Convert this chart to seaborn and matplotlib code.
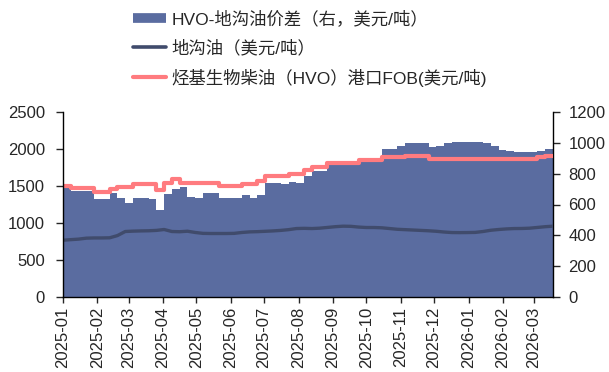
import numpy as np
import pandas as pd
import matplotlib
matplotlib.use("Agg")
import matplotlib.pyplot as plt
import matplotlib.dates as mdates
from matplotlib.lines import Line2D
import seaborn as sns

# --- Data (weekly readings, USD/t) ---
dates = pd.date_range("2025-01-01", periods=64, freq="7D")

hvo_fob = [1500, 1470, 1470, 1470, 1425, 1425, 1460, 1480, 1480, 1525,
           1525, 1525, 1445, 1545, 1590, 1535, 1535, 1535, 1535, 1535,
           1500, 1500, 1500, 1530, 1530, 1570, 1635, 1635, 1635, 1660,
           1660, 1715, 1760, 1760, 1805, 1805, 1805, 1805, 1850, 1850,
           1850, 1890, 1890, 1890, 1905, 1905, 1905, 1870, 1870, 1870,
           1870, 1870, 1870, 1870, 1870, 1870, 1870, 1870, 1870, 1870,
           1870, 1890, 1905, 1905]

uco = [767, 775, 782, 795, 798, 798, 800, 830, 885, 890,
       893, 895, 900, 912, 885, 882, 889, 872, 860, 858,
       858, 858, 860, 872, 880, 883, 888, 893, 900, 910,
       925, 928, 925, 930, 940, 950, 957, 955, 945, 939,
       939, 935, 925, 915, 910, 905, 900, 895, 888, 878,
       871, 870, 871, 873, 885, 902, 912, 920, 925, 926,
       930, 940, 950, 957]

spread = [709, 687, 687, 687, 637, 637, 676, 644, 607, 644,
          644, 633, 567, 665, 700, 716, 648, 644, 672, 672,
          644, 644, 644, 659, 639, 661, 742, 742, 731, 748,
          742, 785, 818, 818, 855, 855, 855, 855, 901, 901,
          901, 960, 960, 977, 999, 999, 999, 971, 981, 999,
          1003, 1003, 1003, 1003, 1000, 977, 953, 945, 938, 938,
          938, 945, 960, 953]

labels = ["HVO-地沟油价差（右，美元/吨）",
          "地沟油（美元/吨）",
          "烃基生物柴油（HVO）港口FOB(美元/吨)"]

BLUE = "#5A6CA0"
NAVY = "#404B6C"
PINK = "#FF7B7F"

df = pd.DataFrame({"date": dates, "hvo": hvo_fob, "uco": uco, "spread": spread})

sns.set_style("ticks")
plt.rcParams["font.family"] = ["Liberation Sans", "Noto Sans CJK SC", "DejaVu Sans"]

fig = plt.figure(figsize=(6.09, 3.72), dpi=100)
ax = fig.add_axes([63 / 609, 1 - 297 / 372, (553 - 63) / 609, (297 - 112) / 372])
ax2 = ax.twinx()

# spread area on the right axis, drawn underneath the price lines
ax2.fill_between(df["date"], df["spread"], step="post", color=BLUE, lw=0)
ax.set_zorder(ax2.get_zorder() + 1)
ax.patch.set_visible(False)

sns.lineplot(data=df, x="date", y="uco", ax=ax, color=NAVY, lw=2.4)
sns.lineplot(data=df, x="date", y="hvo", ax=ax, color=PINK, lw=3,
             drawstyle="steps-post")

ax.set_xlim(dates[0], dates[-1])
ax.set_ylim(0, 2500)
ax.set_yticks(np.arange(0, 2501, 500))
ax2.set_ylim(0, 1200)
ax2.set_yticks(np.arange(0, 1201, 200))
ax.set_xlabel("")
ax.set_ylabel("")

ax.xaxis.set_major_locator(mdates.MonthLocator())
ax.xaxis.set_major_formatter(mdates.DateFormatter("%Y-%m"))
plt.setp(ax.get_xticklabels(), rotation=90)

ax.tick_params(axis="x", direction="out", length=4, width=1, labelsize=12, pad=3)
ax.tick_params(axis="y", direction="out", length=5, width=1, labelsize=12, pad=8)
ax2.tick_params(axis="y", direction="out", length=5, width=1, labelsize=12, pad=6)

for a in (ax, ax2):
    a.spines["top"].set_visible(False)
    for s in a.spines.values():
        s.set_color("black")
        s.set_linewidth(1)
ax.spines["right"].set_visible(False)
ax2.spines["left"].set_visible(False)
ax2.spines["bottom"].set_visible(False)

handles = [Line2D([], [], color=BLUE, lw=7, solid_capstyle="butt"),
           Line2D([], [], color=NAVY, lw=2.6),
           Line2D([], [], color=PINK, lw=3)]
fig.legend(handles, labels, loc="upper left", bbox_to_anchor=(133 / 609, 1 - 10 / 372),
           frameon=False, fontsize=12.5, handlelength=1.9, handletextpad=0.3,
           labelspacing=0.72, borderpad=0, borderaxespad=0)

fig.savefig("out.png", dpi=100)
plt.close(fig)
